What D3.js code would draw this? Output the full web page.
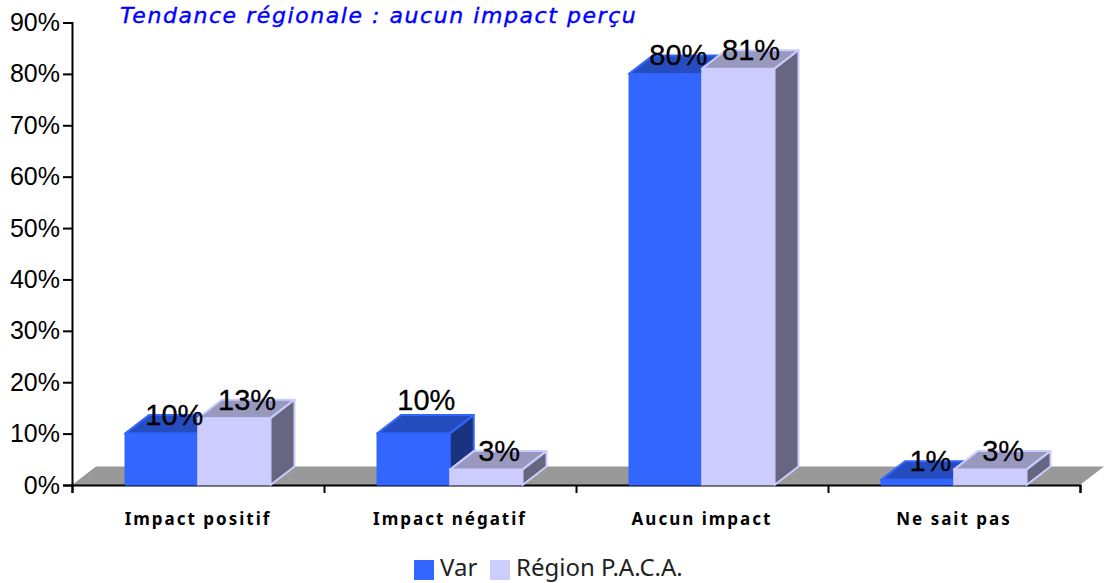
<!DOCTYPE html>
<html>
<head>
<meta charset="utf-8">
<script src="https://cdnjs.cloudflare.com/ajax/libs/d3/7.8.5/d3.min.js"></script>
<style>
	html, body { margin: 0; padding: 0; background: #fff; }
	svg { display: block; }
	.val { font-family: "Liberation Sans", sans-serif; font-size: 29px; fill: #000; stroke: #000; stroke-width: 0.3px; text-anchor: middle; }
	.tick_label { font-family: "Liberation Sans", sans-serif; font-size: 25px; fill: #000; }
	.cat { font-family: "Noto Sans", sans-serif; font-size: 17px; font-weight: bold; letter-spacing: 2px; text-anchor: middle; fill: #000; }
	.title { font-family: "DejaVu Sans", sans-serif; font-size: 22px; font-style: italic; fill: #0000ff; stroke: #0000ff; stroke-width: 0.4px; letter-spacing: 1.56px; }
	.legend { font-family: "Noto Sans", sans-serif; font-size: 24px; fill: #222; }
</style>
</head>
<body>
<div id="chart"></div>
<script>
// data
// ----------------------------------------
var categories = ["Impact positif", "Impact négatif", "Aucun impact", "Ne sait pas"];
var series_names = ["Var", "Région P.A.C.A."];
var var_values = [10, 10, 80, 1];
var paca_values = [13, 3, 81, 3];
var y_ticks = [0, 10, 20, 30, 40, 50, 60, 70, 80, 90];
var title_text = "Tendance régionale : aucun impact perçu";

// main variables
// ----------------------------------------
var width = 1109, height = 583;
var depth_x = 24, depth_y = 18.5;
var colors = [
	{front: "#3366ff", top: "#264dbf", side: "#1a337f"},
	{front: "#ccccff", top: "#9999bf", side: "#666680"}
];

var svg = d3.select("#chart").append("svg")
	.attr("width", width)
	.attr("height", height);

var y = d3.scaleLinear().domain([0, 90]).range([485, 22.5]);
var x = d3.scaleBand().domain(categories).range([72, 1080]);
var x_edges = d3.scaleLinear().domain([0, categories.length]).range([72, 1080]);
var x_series = d3.scaleBand().domain([0, 1]).range([53, 198.5]);

// floor
svg.append("polygon")
	.attr("points", [
		[x.range()[0], y(0)],
		[x.range()[0] + depth_x, y(0) - depth_y],
		[x.range()[1] + depth_x, y(0) - depth_y],
		[x.range()[1], y(0)]
	].join(" "))
	.attr("fill", "#999999");

// axes
var y_axis = svg.append("g")
	.attr("transform", "translate(72,0)")
	.call(d3.axisLeft(y).tickValues(y_ticks).tickSize(9).tickPadding(3).tickFormat(function(d){ return d + "%"; }));
y_axis.selectAll("text").attr("class", "tick_label").attr("fill", null);

var x_axis = svg.append("g")
	.attr("transform", "translate(0," + y(0) + ")")
	.call(d3.axisBottom(x_edges).ticks(categories.length).tickSize(8).tickFormat(""));

svg.selectAll(".domain").attr("stroke", "#000").attr("stroke-width", 2).attr("fill", "none");
svg.selectAll(".tick line").attr("stroke", "#000").attr("stroke-width", 2);

// bars
var data = [];
categories.forEach(function(c, i){
	// the Var label goes above the 3D top when the other bar is lower
	data.push({cat: c, s: 0, v: var_values[i], raised: var_values[i] > paca_values[i]});
	data.push({cat: c, s: 1, v: paca_values[i], raised: false});
});

var bars = svg.append("g").selectAll("g")
	.data(data)
	.enter()
	.append("g")
	.attr("stroke-width", 2)
	.attr("stroke-linejoin", "round");

function bar_x(d){ return x(d.cat) + x_series(d.s); }

bars.append("polygon")
	.attr("points", function(d){
		var x0 = bar_x(d), x1 = x0 + x_series.bandwidth(), t = y(d.v);
		return [[x0, t], [x0 + depth_x, t - depth_y], [x1 + depth_x, t - depth_y], [x1, t]].join(" ");
	})
	.attr("fill", function(d){ return colors[d.s].top; })
	.attr("stroke", function(d){ return colors[d.s].front; });

bars.append("polygon")
	.attr("points", function(d){
		var x1 = bar_x(d) + x_series.bandwidth(), t = y(d.v), b = y(0);
		return [[x1, t], [x1 + depth_x, t - depth_y], [x1 + depth_x, b - depth_y], [x1, b]].join(" ");
	})
	.attr("fill", function(d){ return colors[d.s].side; })
	.attr("stroke", function(d){ return colors[d.s].front; });

bars.append("rect")
	.attr("x", bar_x)
	.attr("y", function(d){ return y(d.v); })
	.attr("width", x_series.bandwidth())
	.attr("height", function(d){ return y(0) - y(d.v); })
	.attr("fill", function(d){ return colors[d.s].front; })
	.attr("stroke", function(d){ return colors[d.s].front; })
	.attr("stroke-width", 1);

// value labels
svg.append("g").selectAll("text")
	.data(data)
	.enter()
	.append("text")
	.attr("class", "val")
	.attr("x", function(d){ return bar_x(d) + x_series.bandwidth() / 2 + 13; })
	.attr("y", function(d){ return y(d.v) - 8.5 - (d.raised ? 15 : 0); })
	.text(function(d){ return d.v + "%"; });

// category labels
svg.append("g").selectAll("text")
	.data(categories)
	.enter()
	.append("text")
	.attr("class", "cat")
	.attr("x", function(d){ return x(d) + x.bandwidth() / 2; })
	.attr("y", 525)
	.text(function(d){ return d; });

// title
svg.append("text")
	.attr("class", "title")
	.attr("x", 120)
	.attr("y", 23)
	.text(title_text);

// legend
var legend_x = [414, 490];
var legend = svg.append("g").selectAll("g")
	.data(series_names)
	.enter()
	.append("g")
	.attr("transform", function(d, i){ return "translate(" + legend_x[i] + ",560)"; });

legend.append("rect")
	.attr("width", 20)
	.attr("height", 20)
	.attr("fill", function(d, i){ return colors[i].front; });

legend.append("text")
	.attr("class", "legend")
	.attr("x", 26)
	.attr("y", 16)
	.text(function(d){ return d; });
</script>
</body>
</html>
